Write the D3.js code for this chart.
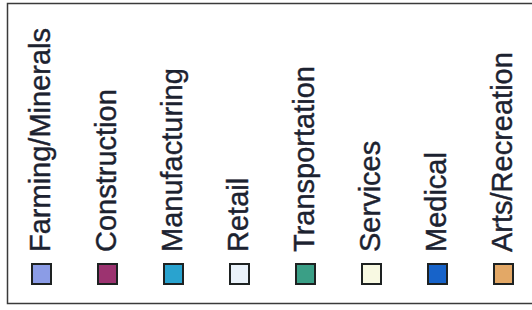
<!DOCTYPE html>
<html>
<head>
<meta charset="utf-8">
<script src="https://cdn.jsdelivr.net/npm/d3@7"></script>
<style>
  body { margin: 0; background: #fff; }
  svg { display: block; }
</style>
</head>
<body>
<svg id="legend"></svg>
<script>
// legend entries and their swatch colours
let categories = ["Farming/Minerals", "Construction", "Manufacturing", "Retail",
                  "Transportation", "Services", "Medical", "Arts/Recreation"];
let swatchColors = ["#8b9ce6", "#9c3370", "#29a3cf", "#eaf2fa",
                    "#3a9f86", "#f8f9e2", "#1763c9", "#e3a866"];

var svgWidth = 532, svgHeight = 310;
var svg = d3.select('#legend')
  .attr("width", svgWidth)
  .attr("height", svgHeight);

//outer frame (right edge runs off the scan)
svg.append("rect")
  .attr("x", 7.5).attr("y", 3.5)
  .attr("width", 528).attr("height", 300)
  .attr("fill", "#fff")
  .attr("stroke", "#3a3a3a")
  .attr("stroke-width", 1.5);

//one column per category
var x = d3.scaleBand()
  .domain(categories)
  .range([31, 31 + 66 * categories.length]);

var color = d3.scaleOrdinal()
  .domain(categories)
  .range(swatchColors);

var item = svg.append("g")
  .selectAll("g")
  .data(categories)
  .enter().append("g")
  .attr("transform", function(d) { return "translate(" + x(d) + ",0)"; });

item.append("rect")
  .attr("x", 1).attr("y", 264)
  .attr("width", 19).attr("height", 20)
  .attr("fill", function(d) { return color(d); })
  .attr("stroke", "#1e2222")
  .attr("stroke-width", 2);

item.append("text")
  .attr("transform", "translate(19,252) rotate(-90)")
  .attr("font-family", "'Liberation Sans', Arial, sans-serif")
  .attr("font-size", 29)
  .attr("fill", "#1c2230")
  .attr("stroke", "#1c2230")
  .attr("stroke-width", 0.4)
  .text(function(d) { return d; });
</script>
</body>
</html>
